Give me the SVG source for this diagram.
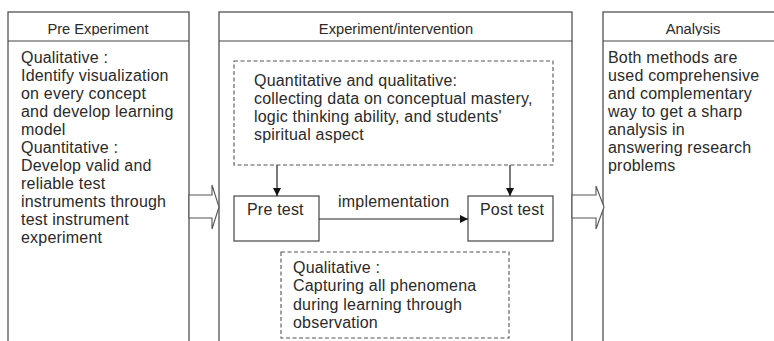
<svg xmlns="http://www.w3.org/2000/svg" width="774" height="341" viewBox="0 0 774 341">
<style>
.box{fill:#fff;stroke:#444;stroke-width:1.2}
.dash{fill:none;stroke:#555;stroke-width:1.1;stroke-dasharray:4 2.5}
.line{fill:none;stroke:#222;stroke-width:1.2}
.blk{fill:#fff;stroke:#555;stroke-width:1.1;stroke-linejoin:miter}
.hd{font-family:"Liberation Sans",Arial,sans-serif;font-size:14.7px;fill:#2a2a2a;text-anchor:middle}
.tx{font-family:"Liberation Sans",Arial,sans-serif;font-size:16px;fill:#2a2a2a;letter-spacing:0.2px}
</style>
<defs>
<marker id="ah" viewBox="0 0 10 10" refX="10" refY="5" markerWidth="8" markerHeight="8" markerUnits="userSpaceOnUse" orient="auto">
<path d="M0,0 L10,5 L0,10 Z" fill="#111"/>
</marker>
<clipPath id="clipL"><rect x="8" y="12" width="181" height="23.6"/></clipPath>
<clipPath id="clipR"><rect x="603" y="12" width="180" height="23.6"/></clipPath>
</defs>
<rect width="774" height="341" fill="#fff"/>

<g id="pre-experiment">
<rect class="box" x="8" y="12" width="181" height="340"/>
<line class="box" x1="8" y1="41" x2="189" y2="41"/>
<text class="hd" x="98" y="34" clip-path="url(#clipL)">Pre Experiment</text>
<text class="tx">
<tspan x="21" y="63">Qualitative :</tspan>
<tspan x="21" y="81">Identify visualization</tspan>
<tspan x="21" y="99">on every concept</tspan>
<tspan x="21" y="117">and develop learning</tspan>
<tspan x="21" y="135">model</tspan>
<tspan x="21" y="153">Quantitative :</tspan>
<tspan x="21" y="171">Develop valid and</tspan>
<tspan x="21" y="189">reliable test</tspan>
<tspan x="21" y="207">instruments through</tspan>
<tspan x="21" y="225">test instrument</tspan>
<tspan x="21" y="243">experiment</tspan>
</text>
</g>

<g id="experiment-intervention">
<rect class="box" x="219" y="12" width="353" height="340"/>
<line class="box" x1="219" y1="41" x2="572" y2="41"/>
<text class="hd" x="396" y="34">Experiment/intervention</text>
</g>

<g id="quant-qual">
<rect class="dash" x="234" y="61" width="319" height="104"/>
<text class="tx">
<tspan x="254" y="86">Quantitative and qualitative:</tspan>
<tspan x="254" y="104">collecting data on conceptual mastery,</tspan>
<tspan x="254" y="122">logic thinking ability, and students'</tspan>
<tspan x="254" y="140">spiritual aspect</tspan>
</text>
</g>

<g id="pre-test">
<rect class="box" x="234" y="196" width="85" height="45"/>
<text class="tx" x="247" y="215">Pre test</text>
</g>

<g id="post-test">
<rect class="box" x="468" y="196" width="85" height="45"/>
<text class="tx" x="480" y="215">Post test</text>
</g>

<g id="qualitative-observation">
<rect class="dash" x="281" y="252" width="228" height="86"/>
<text class="tx">
<tspan x="293" y="273">Qualitative :</tspan>
<tspan x="293" y="291">Capturing all phenomena</tspan>
<tspan x="293" y="310">during learning through</tspan>
<tspan x="293" y="328">observation</tspan>
</text>
</g>

<g id="analysis">
<rect class="box" x="603" y="12" width="180" height="340"/>
<line class="box" x1="603" y1="41" x2="783" y2="41"/>
<text class="hd" x="693" y="34" clip-path="url(#clipR)">Analysis</text>
<text class="tx">
<tspan x="608" y="63">Both methods are</tspan>
<tspan x="608" y="81">used comprehensive</tspan>
<tspan x="608" y="99">and complementary</tspan>
<tspan x="608" y="117">way to get a sharp</tspan>
<tspan x="608" y="135">analysis in</tspan>
<tspan x="608" y="153">answering research</tspan>
<tspan x="608" y="171">problems</tspan>
</text>
</g>

<g id="connectors">
<polygon class="blk" points="189,195 212,195 212,185 219,207 212,229 212,218 189,218"/>
<polygon class="blk" points="572,195 596,195 596,186 604,207 596,229 596,218 572,218"/>
<line class="line" x1="277" y1="165" x2="277" y2="196" marker-end="url(#ah)"/>
<line class="line" x1="510" y1="165" x2="510" y2="196" marker-end="url(#ah)"/>
<line class="line" x1="319" y1="219" x2="468" y2="219" marker-end="url(#ah)"/>
<text class="tx" x="338" y="207">implementation</text>
</g>
</svg>
